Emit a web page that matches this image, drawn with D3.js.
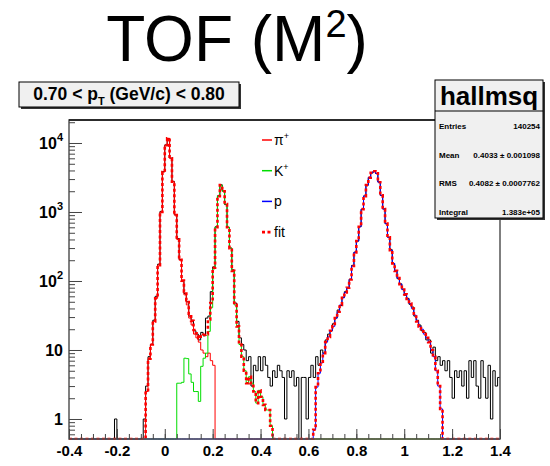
<!DOCTYPE html>
<html><head><meta charset="utf-8">
<script src="https://cdn.jsdelivr.net/npm/d3@7"></script>
<style>
body{margin:0;background:#fff;}
svg{display:block;font-family:"Liberation Sans",Arial,Helvetica,sans-serif;}
</style></head>
<body><svg id="c" width="550" height="466"></svg>
<script>
// ---------- DATA ----------
const binStart = -0.4, binWidth = 0.01, nBins = 180;
// measured histogram (hallmsq), one value per bin from -0.40 to 1.39
const dataCounts = [
 0,0,0,0,0,0,0,0,0,0, 0,0,0,0,0,0,0,0,0,1,
 0,0,0,0,0,0,0,0,0,0, 0,1,3,8,12,27,60,175,1020,3850,
 9400,11600,6050,2780,910,410,205,101,66,50, 31,27,19,17,14,18,16,29,31,70,
 160,610,1720,2480,2010,1280,600,300,145,48, 26,15,12,10,7,8,3,6,5,8,
 5,8,6,4,3,5,4,6,5,4, 1,5,4,5,3,4,0,4,4,1,
 4,6,4,8,6,10,9,14,17,19, 24,29,38,44,58,70,78,106,168,262,
 378,615,1090,1710,2440,3170,3680,3920,3610,2720, 1740,1110,675,432,284,178,142,108,91,76,
 62,56,46,42,31,27,23,19,18,14, 14,9,11,7,8,6,7,5,7,4,
 2,5,4,5,3,5,2,7,4,7, 3,2,7,4,2,6,1,5,3,4
];
// pi+ template, first bin starts at -0.08
const pionStart = -0.08;
const pionCounts = [2.5,7.5,12,26,56,170,1000,3800,9300,11700,6000,2750,900,400,200,98,63,45,29,23,17,15,13,10,9,8,9,7,6];
// K+ template, first bin starts at 0.05
const kaonStart = 0.05;
const kaonCounts = [3.3,3.3,3.4,7.6,7.5,4.5,3.4,2.5,2.5,1.8,5.8,7.6,9,18.6,41,150,600,1700,2450,2000,1300,600,300,140,45,22,12,8,5,3.3,4.1,3.3,2.5,1.7,2.6,2.1,1.6,1.35,1.35,0.8];
// proton template, first bin starts at 0.62
const protonStart = 0.62;
const protonCounts = [0.7,2.9,4.6,6.5,9,13,15.5,19,22,29,36,45,57,68,80,105,165,260,380,610,1100,1700,2450,3150,3700,3900,3630,2700,1750,1100,680,430,280,180,140,110,90,75,64,55,47,40,32,26,22,20,17,15,13,10,8,5,3,1.4];

const xTickLabels = ["-0.4","-0.2","0","0.2","0.4","0.6","0.8","1","1.2","1.4"];
const yTickValues = [1,10,100,1000,10000];
const yTickExp = ["","","2","3","4"];

const legendLabels = [["π","+"],["K","+"],["p",""],["fit",""]];
const statsLabels = ["Entries","Mean","RMS","Integral"];
const statsValues = ["140254","0.4033 ± 0.001098","0.4082 ± 0.0007762","1.383e+05"];

// ---------- LAYOUT ----------
const svg = d3.select("#c");
const L = 69, R = 500, T = 120, B = 439;
const x = d3.scaleLinear().domain([-0.4, 1.4]).range([L, R]);
const y = d3.scaleLog().domain([0.5129, 21544]).range([B, T]);

function fullArray(start, vals){
  const a = new Array(nBins).fill(0);
  const i0 = Math.round((start - binStart)/binWidth);
  vals.forEach((v,k)=>{ a[i0+k] = v; });
  return a;
}
const pion = fullArray(pionStart, pionCounts);
const kaon = fullArray(kaonStart, kaonCounts);
const proton = fullArray(protonStart, protonCounts);
const fit = pion.map((v,i)=> v + kaon[i] + proton[i]);

function yPos(v){ return v >= y.domain()[0] ? y(v) : B; }
function histPath(arr){
  const pts = arr.map((v,i)=>[binStart + i*binWidth, v]);
  pts.push([binStart + nBins*binWidth, arr[nBins-1]]);
  return d3.line().x(d=>x(d[0])).y(d=>yPos(d[1])).curve(d3.curveStepAfter)(pts);
}

// title
const title = svg.append("text").attr("x", 237).attr("y", 61).attr("text-anchor","middle")
  .attr("font-size", 64).attr("fill","#000");
title.append("tspan").text("TOF (M");
title.append("tspan").attr("font-size", 38).attr("dy", -24).text("2");
title.append("tspan").attr("dy", 24).text(")");

// clip
svg.append("clipPath").attr("id","fr").append("rect").attr("x",L).attr("y",T).attr("width",R-L).attr("height",B-T+1);

const g = svg.append("g").attr("clip-path","url(#fr)");
g.append("path").attr("d", histPath(dataCounts)).attr("fill","none").attr("stroke","#000").attr("stroke-width",1);
g.append("path").attr("d", histPath(pion)).attr("fill","none").attr("stroke","#ff0000").attr("stroke-width",1);
g.append("path").attr("d", histPath(kaon)).attr("fill","none").attr("stroke","#00dd00").attr("stroke-width",1);
g.append("path").attr("d", histPath(proton)).attr("fill","none").attr("stroke","#0000ff").attr("stroke-width",1);
g.append("path").attr("d", histPath(fit)).attr("fill","none").attr("stroke","#ff0000").attr("stroke-width",2.6).attr("stroke-dasharray","3,2.5");

// frame
svg.append("rect").attr("x",L).attr("y",T).attr("width",R-L).attr("height",B-T)
  .attr("fill","none").attr("stroke","#555").attr("stroke-width",1.5);
svg.append("line").attr("x1",L).attr("x2",R).attr("y1",T).attr("y2",T).attr("stroke","#111").attr("stroke-width",1.5);

// x axis
const xMajor = d3.range(0,10).map(i=> -0.4 + 0.2*i);
const xMinor = d3.range(0,37).map(i=> -0.4 + 0.05*i);
const xAxMinor = d3.axisBottom(x).tickValues(xMinor).tickSizeInner(-5).tickSizeOuter(0).tickFormat("");
const xAxMajor = d3.axisBottom(x).tickValues(xMajor).tickSizeInner(-10).tickSizeOuter(0)
  .tickFormat((d,i)=> xTickLabels[i]).tickPadding(6);
[xAxMinor, xAxMajor].forEach(ax=>{
  const a = svg.append("g").attr("transform",`translate(0,${B})`).call(ax);
  a.select(".domain").remove();
  a.selectAll("line").attr("stroke","#444").attr("stroke-width",1);
  a.selectAll("text").attr("font-size",15).attr("font-weight","bold").attr("fill","#000")
   .attr("font-family","'Liberation Sans',Arial,sans-serif");
});

// y axis
const yMinor = [];
for (let e=-1; e<=4; e++) for (let k=2;k<=9;k++){ const v=k*Math.pow(10,e); if (v>=y.domain()[0] && v<=y.domain()[1]) yMinor.push(v); }
const yAxMinor = d3.axisLeft(y).tickValues(yMinor).tickSizeInner(-6).tickSizeOuter(0).tickFormat("");
const yAxMajor = d3.axisLeft(y).tickValues(yTickValues).tickSizeInner(-13).tickSizeOuter(0).tickFormat("").tickPadding(6);
[yAxMinor, yAxMajor].forEach(ax=>{
  const a = svg.append("g").attr("transform",`translate(${L},0)`).call(ax);
  a.select(".domain").remove();
  a.selectAll("line").attr("stroke","#444").attr("stroke-width",1);
});
yTickValues.forEach((v,i)=>{
  const t = svg.append("text").attr("x", 63).attr("y", y(v)+6).attr("text-anchor","end")
    .attr("font-size",16).attr("font-weight","bold").attr("fill","#000");
  if (yTickExp[i]) {
    t.append("tspan").text("10");
    t.append("tspan").attr("font-size",11).attr("dy",-8).text(yTickExp[i]);
  } else {
    t.append("tspan").text(v===1 ? "1" : "10");
  }
});

// pT pave
svg.append("rect").attr("x",21).attr("y",84).attr("width",220).attr("height",25).attr("fill","#333");
svg.append("rect").attr("x",19).attr("y",82).attr("width",220).attr("height",25).attr("fill","#f0f0f0").attr("stroke","#000").attr("stroke-width",1);
const pt = svg.append("text").attr("x",129).attr("y",100).attr("text-anchor","middle").attr("font-size",17.5).attr("font-weight","bold");
pt.append("tspan").text("0.70 < p");
pt.append("tspan").attr("font-size",11).attr("dy",5).text("T");
pt.append("tspan").attr("dy",-5).text(" (GeV/c) < 0.80");

// stats box
const sx = 435, sy = 80, sw = 108, sh = 138;
svg.append("rect").attr("x",sx+2).attr("y",sy+2).attr("width",sw).attr("height",sh).attr("fill","#333");
svg.append("rect").attr("x",sx).attr("y",sy).attr("width",sw).attr("height",sh).attr("fill","#f0f0f0").attr("stroke","#000").attr("stroke-width",1);
svg.append("line").attr("x1",sx).attr("x2",sx+sw).attr("y1",sy+31).attr("y2",sy+31).attr("stroke","#000");
svg.append("text").attr("x",sx+sw/2).attr("y",sy+25).attr("text-anchor","middle").attr("font-size",26).attr("font-weight","bold").text("hallmsq");
statsLabels.forEach((s,i)=>{
  const yy = 129 + i*28.5;
  svg.append("text").attr("x",sx+4).attr("y",yy).attr("font-size",8).attr("font-weight","bold").text(s);
  svg.append("text").attr("x",sx+sw-3).attr("y",yy).attr("text-anchor","end").attr("font-size",8).attr("font-weight","bold").text(statsValues[i]);
});

// legend
const legColors = ["#ff0000","#00dd00","#0000ff","#ff0000"];
legendLabels.forEach((lab,i)=>{
  const yy = 140 + i*30.7;
  if (i<3) svg.append("line").attr("x1",262).attr("x2",272).attr("y1",yy).attr("y2",yy).attr("stroke",legColors[i]).attr("stroke-width",1.5);
  else svg.append("line").attr("x1",262).attr("x2",272).attr("y1",yy).attr("y2",yy).attr("stroke",legColors[i]).attr("stroke-width",2.6).attr("stroke-dasharray","3,2.5");
  const t = svg.append("text").attr("x",274).attr("y",yy+5).attr("font-size",14);
  t.append("tspan").text(lab[0]);
  if (lab[1]) t.append("tspan").attr("font-size",9).attr("dy",-6).text(lab[1]);
});
</script></body></html>
